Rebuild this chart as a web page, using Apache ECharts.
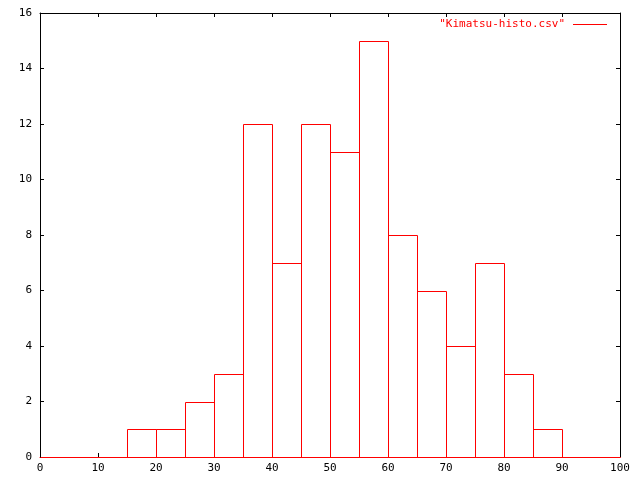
<!DOCTYPE html>
<html><head><meta charset="utf-8">
<script src="https://cdn.jsdelivr.net/npm/echarts@6/dist/echarts.min.js"></script>
<style>html,body{margin:0;padding:0;background:#fff}#c{width:640px;height:480px}</style>
</head><body><div id="c"></div>
<script>
var binStarts = [0, 5, 10, 15, 20, 25, 30, 35, 40, 45, 50, 55, 60, 65, 70, 75, 80, 85, 90, 95];
var binWidth = 5;
var counts = [0, 0, 0, 1, 1, 2, 3, 12, 7, 12, 11, 15, 8, 6, 4, 7, 3, 1, 0, 0];
var xTicks = [0, 10, 20, 30, 40, 50, 60, 70, 80, 90, 100];
var yTicks = [0, 2, 4, 6, 8, 10, 12, 14, 16];
var seriesName = '"Kimatsu-histo.csv"';

var data = binStarts.map(function (s, i) { return [s, s + binWidth, counts[i]]; });
var font = 'DejaVu Sans Mono';
var chart = echarts.init(document.getElementById('c'), null, {renderer: 'canvas'});
function axisBase(extra) {
  var o = {
    type: 'value',
    axisLine: {show: true, onZero: false, lineStyle: {color: '#000', width: 1}},
    axisTick: {show: true, inside: true, length: 4, lineStyle: {color: '#000'}},
    splitLine: {show: false},
    axisLabel: {show: true, color: '#000', fontFamily: font, fontSize: 11}
  };
  for (var k in extra) o[k] = extra[k];
  return o;
}
chart.setOption({
  animation: false,
  backgroundColor: '#fff',
  grid: {left: 40, right: 20, top: 13, bottom: 23, containLabel: false},
  legend: {
    show: true, right: 33, top: 19, align: 'right', padding: 0, itemGap: 0,
    icon: 'rect', itemWidth: 34, itemHeight: 1,
    textStyle: {color: '#f00', fontFamily: font, fontSize: 11, padding: [0, 3, 0, 0]},
    data: [{name: seriesName, itemStyle: {color: '#f00'}}]
  },
  xAxis: [
    axisBase({min: xTicks[0], max: xTicks[xTicks.length - 1], interval: 10, position: 'bottom',
      axisLine: {show: true, onZero: false, lineStyle: {color: '#f00', width: 1}},
      axisLabel: {show: true, color: '#000', fontFamily: font, fontSize: 11, margin: 6}}),
    axisBase({min: xTicks[0], max: xTicks[xTicks.length - 1], interval: 10, position: 'top',
      axisLabel: {show: false}})
  ],
  yAxis: [
    axisBase({min: yTicks[0], max: yTicks[yTicks.length - 1], interval: 2, position: 'left',
      axisLabel: {show: true, color: '#000', fontFamily: font, fontSize: 11, margin: 8}}),
    axisBase({min: yTicks[0], max: yTicks[yTicks.length - 1], interval: 2, position: 'right',
      axisLabel: {show: false}})
  ],
  series: [{
    name: seriesName,
    type: 'custom',
    xAxisIndex: 0, yAxisIndex: 0,
    itemStyle: {color: '#f00'},
    data: data,
    renderItem: function (params, api) {
      var p0 = api.coord([api.value(0), 0]);
      var p1 = api.coord([api.value(1), api.value(2)]);
      var x0 = Math.round(p0[0]) + 0.5, x1 = Math.round(p1[0]) + 0.5;
      var yb = Math.round(p0[1]) + 0.5, yt = Math.round(p1[1]) + 0.5;
      return {
        type: 'polyline',
        shape: {points: [[x0, yb], [x0, yt], [x1, yt], [x1, yb]]},
        style: {stroke: '#f00', fill: null, lineWidth: 1}
      };
    }
  }]
});
</script></body></html>
